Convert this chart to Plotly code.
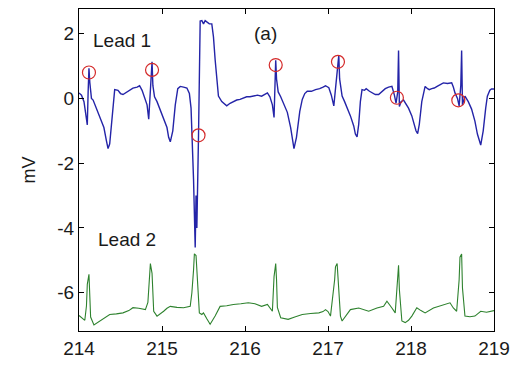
import plotly.graph_objects as go

# Lead 1 (blue) trace
lead1_x = [214.00, 214.03, 214.06, 214.08, 214.10, 214.11, 214.12, 214.13, 214.15, 214.17, 214.20, 214.25,
           214.30, 214.33, 214.35, 214.37, 214.40, 214.43, 214.47, 214.50, 214.53, 214.58, 214.62, 214.65,
           214.70, 214.73, 214.76, 214.78, 214.82, 214.84, 214.86, 214.88, 214.89, 214.91, 214.94, 214.98,
           215.02, 215.06, 215.08, 215.10, 215.13, 215.16, 215.19, 215.22, 215.26, 215.30, 215.33, 215.35,
           215.38, 215.40, 215.41, 215.42, 215.44, 215.45, 215.46, 215.48, 215.50, 215.52, 215.55, 215.57,
           215.60, 215.62, 215.64, 215.66, 215.68, 215.72, 215.76, 215.78, 215.82, 215.86, 215.90, 215.94,
           215.98, 216.02, 216.06, 216.10, 216.15, 216.20, 216.24, 216.27, 216.30, 216.33, 216.35, 216.36,
           216.37, 216.38, 216.40, 216.43, 216.47, 216.51, 216.55, 216.57, 216.59, 216.62, 216.66, 216.69,
           216.72, 216.75, 216.80, 216.85, 216.90, 216.94, 216.97, 217.01, 217.04, 217.07, 217.10, 217.13,
           217.14, 217.17, 217.20, 217.24, 217.27, 217.31, 217.33, 217.35, 217.37, 217.39, 217.41, 217.44,
           217.46, 217.50, 217.53, 217.57, 217.61, 217.65, 217.69, 217.73, 217.77, 217.80, 217.82, 217.84,
           217.85, 217.86, 217.88, 217.91, 217.93, 217.97, 218.01, 218.04, 218.06, 218.08, 218.10, 218.13,
           218.17, 218.20, 218.22, 218.25, 218.28, 218.32, 218.36, 218.39, 218.44, 218.49, 218.51, 218.53,
           218.56, 218.58, 218.60, 218.61, 218.62, 218.63, 218.65, 218.69, 218.73, 218.77, 218.80, 218.84,
           218.87, 218.90, 218.92, 218.95, 218.97, 219.00]
lead1_y = [0.17, 0.10, -0.10, -0.50, -0.82, 0.20, 0.93, 0.50, 0.00, -0.05, -0.25, -0.54,
           -0.90, -1.30, -1.55, -1.40, -0.50, 0.27, 0.25, 0.15, 0.12, 0.20, 0.28, 0.32,
           0.35, 0.39, 0.25, 0.10, -0.20, -0.64, 0.30, 1.13, 0.40, 0.05, -0.10, -0.35,
           -0.64, -0.90, -1.20, -1.34, -1.00, -0.20, 0.30, 0.37, 0.35, 0.32, 0.15, -0.30,
           -2.50, -4.60, -3.00, -4.00, -1.14, 1.00, 2.39, 2.40, 2.30, 2.40, 2.35, 2.30,
           2.30, 1.90, 1.20, 0.60, 0.07, -0.10, -0.20, -0.23, -0.15, -0.10, -0.05, -0.03,
           0.00, 0.05, 0.05, 0.07, 0.10, 0.07, 0.12, 0.17, 0.05, -0.20, -0.59, 0.30,
           1.18, 0.60, 0.20, 0.05, -0.20, -0.43, -0.90, -1.30, -1.55, -1.20, -0.40, -0.03,
           0.15, 0.22, 0.22, 0.27, 0.30, 0.35, 0.39, 0.33, 0.10, -0.23, 0.50, 1.33,
           0.60, 0.07, -0.10, -0.35, -0.54, -0.85, -1.10, -1.19, -0.80, -0.10, 0.27, 0.25,
           0.30, 0.22, 0.17, 0.12, 0.12, 0.20, 0.30, 0.35, 0.37, 0.10, -0.15, 0.20,
           1.48, -0.25, -0.10, -0.05, -0.13, -0.30, -0.54, -0.80, -1.00, -1.09, -0.80, -0.10,
           0.37, 0.30, 0.27, 0.30, 0.32, 0.38, 0.45, 0.48, 0.46, 0.48, 0.35, 0.17,
           0.00, -0.23, 0.40, 1.48, -0.20, -0.10, 0.07, -0.10, -0.33, -0.70, -1.10, -1.44,
           -1.00, -0.30, 0.07, 0.25, 0.29, 0.29]

# Lead 2 (green) trace
lead2_x = [214.00, 214.04, 214.07, 214.09, 214.10, 214.12, 214.13, 214.14, 214.18, 214.25, 214.31, 214.37,
           214.45, 214.53, 214.60, 214.65, 214.72, 214.80, 214.83, 214.84, 214.86, 214.88, 214.90, 214.94,
           214.98, 215.02, 215.06, 215.10, 215.18, 215.26, 215.34, 215.36, 215.38, 215.39, 215.41, 215.43,
           215.45, 215.48, 215.50, 215.54, 215.58, 215.64, 215.70, 215.78, 215.86, 215.95, 216.04, 216.12,
           216.20, 216.27, 216.33, 216.35, 216.37, 216.38, 216.39, 216.43, 216.52, 216.60, 216.69, 216.79,
           216.89, 216.94, 216.97, 217.00, 217.03, 217.08, 217.09, 217.11, 217.13, 217.15, 217.17, 217.22,
           217.27, 217.37, 217.49, 217.59, 217.67, 217.71, 217.74, 217.77, 217.81, 217.83, 217.84, 217.85,
           217.86, 217.89, 217.93, 217.97, 218.01, 218.07, 218.12, 218.17, 218.27, 218.37, 218.47, 218.51,
           218.55, 218.58, 218.59, 218.61, 218.62, 218.65, 218.71, 218.77, 218.84, 218.91, 218.98, 219.00]
lead2_y = [-6.70, -6.80, -6.85, -6.40, -5.74, -5.43, -6.30, -6.75, -6.99, -6.87, -6.78, -6.67,
           -6.65, -6.62, -6.55, -6.46, -6.48, -6.52, -6.30, -5.81, -5.10, -5.40, -6.57, -6.72,
           -6.65, -6.57, -6.48, -6.42, -6.45, -6.46, -6.42, -6.00, -5.30, -4.80, -4.85, -5.75,
           -6.62, -6.67, -6.62, -6.80, -6.97, -6.72, -6.42, -6.40, -6.36, -6.34, -6.31, -6.34,
           -6.42, -6.36, -6.57, -5.50, -5.10, -5.60, -6.45, -6.77, -6.82, -6.75, -6.67, -6.64,
           -6.62, -6.58, -6.52, -6.58, -6.72, -5.60, -5.20, -5.10, -5.80, -6.72, -6.87, -6.70,
           -6.52, -6.47, -6.57, -6.47, -6.42, -6.26, -6.35, -6.47, -6.62, -5.90, -5.30, -5.15,
           -5.90, -6.87, -6.92, -6.85, -6.72, -6.46, -6.55, -6.62, -6.47, -6.39, -6.31, -6.47,
           -6.57, -5.60, -4.90, -4.80, -5.85, -6.72, -6.74, -6.72, -6.57, -6.60, -6.57, -6.55]

# Detected points (red circles)
det_x = [214.12, 214.88, 215.44, 216.37, 217.12, 217.83, 218.57]
det_y = [0.80, 0.88, -1.14, 1.03, 1.13, 0.02, -0.06]

xticks = [214, 215, 216, 217, 218, 219]
yticks = [-6, -4, -2, 0, 2]

font_family = "Liberation Sans, Arial, sans-serif"

fig = go.Figure()
fig.add_trace(go.Scatter(x=lead1_x, y=lead1_y, mode="lines",
                         line=dict(color="#2424a8", width=1.4), showlegend=False))
fig.add_trace(go.Scatter(x=lead2_x, y=lead2_y, mode="lines",
                         line=dict(color="#2e822e", width=1.1), showlegend=False))
fig.add_trace(go.Scatter(x=det_x, y=det_y, mode="markers",
                         marker=dict(symbol="circle-open", size=13, color="#d42a2a",
                                     line=dict(width=1.2, color="#d42a2a")),
                         showlegend=False))

fig.add_annotation(x=214.14, y=1.79, text="Lead 1", showarrow=False, xanchor="left", yanchor="middle",
                   font=dict(size=19, color="#1a1a1a", family=font_family))
fig.add_annotation(x=216.09, y=2.0, text="(a)", showarrow=False, xanchor="left", yanchor="middle",
                   font=dict(size=19, color="#1a1a1a", family=font_family))
fig.add_annotation(x=214.2, y=-4.34, text="Lead 2", showarrow=False, xanchor="left", yanchor="middle",
                   font=dict(size=19, color="#1a1a1a", family=font_family))

fig.update_layout(
    width=524, height=367,
    margin=dict(l=79, r=30, t=8, b=32),
    paper_bgcolor="white", plot_bgcolor="white",
    font=dict(family=font_family, size=19, color="#1a1a1a"),
)
fig.update_xaxes(range=[214, 219], tickvals=xticks, ticktext=[str(t) for t in xticks],
                 ticks="inside", ticklen=5, tickcolor="black", showline=True, linecolor="black",
                 linewidth=1, mirror="ticks", showgrid=False, zeroline=False)
fig.update_yaxes(range=[-7.18, 2.76], tickvals=yticks, ticktext=[str(t) for t in yticks],
                 ticks="inside", ticklen=5, tickcolor="black", showline=True, linecolor="black",
                 linewidth=1, mirror="ticks", showgrid=False, zeroline=False,
                 title=dict(text="mV", standoff=16, font=dict(size=18)))

fig.write_html("out.html")
